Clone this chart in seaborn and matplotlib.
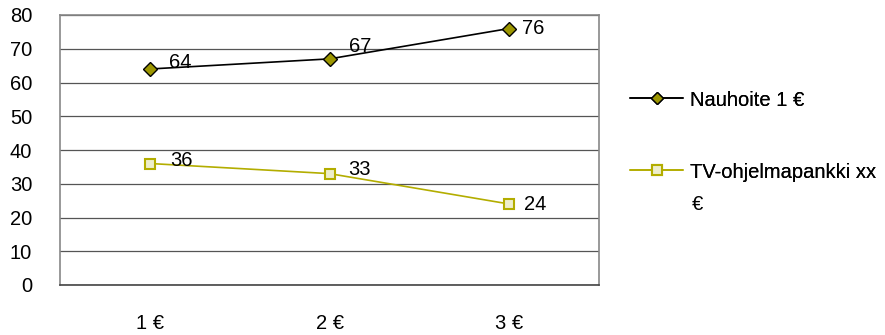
import matplotlib
matplotlib.use("Agg")
import matplotlib.pyplot as plt
from matplotlib.lines import Line2D
import seaborn as sns
import pandas as pd

categories = ["1 €", "2 €", "3 €"]
series_names = ["Nauhoite 1 €", "TV-ohjelmapankki xx €"]
nauhoite = [64, 67, 76]
tv_pankki = [36, 33, 24]
y_ticks = [0, 10, 20, 30, 40, 50, 60, 70, 80]

df = pd.DataFrame({
    "pos": list(range(len(categories))) * 2,
    "value": nauhoite + tv_pankki,
    "series": [series_names[0]] * 3 + [series_names[1]] * 3,
})

sns.set_theme(style="white")
plt.rcParams["font.family"] = ["Liberation Sans", "DejaVu Sans"]
plt.rcParams["text.color"] = "black"

FS = 14.5
OLIVE_DARK = "#9c9600"
OLIVE = "#b3ad00"
PALE = "#eeeecc"
PX = 0.72  # points per pixel at 100 dpi

fig = plt.figure(figsize=(8.85, 3.35), dpi=100)
ax = fig.add_axes([60 / 885, 50 / 335, 539 / 885, 270 / 335])

palette = {series_names[0]: "black", series_names[1]: OLIVE}
sns.lineplot(data=df, x="pos", y="value", hue="series", style="series",
             markers={series_names[0]: "D", series_names[1]: "s"},
             dashes=False, palette=palette, ax=ax, linewidth=1.2,
             legend=False)

lines = ax.get_lines()
lines[0].set_markerfacecolor(OLIVE_DARK)
lines[0].set_markeredgecolor("black")
lines[0].set_markeredgewidth(1.0)
lines[0].set_markersize(7.5)
lines[1].set_markerfacecolor(PALE)
lines[1].set_markeredgecolor(OLIVE)
lines[1].set_markeredgewidth(1.5)
lines[1].set_markersize(7)

# value labels sit to the right of each point, nudged clear of the lines
label_offsets = [
    [(19, 7), (19, 12.5), (13, 0.5)],
    [(20, 3), (19, 4), (15, -0.5)],
]
for vals, offs in zip((nauhoite, tv_pankki), label_offsets):
    for i, (v, (dx, dy)) in enumerate(zip(vals, offs)):
        ax.annotate(str(v), (i, v), xytext=(dx * PX, dy * PX),
                    textcoords="offset points", fontsize=FS, color="black",
                    va="center", ha="left")

ax.set_xlim(-0.5, 2.5)
ax.set_ylim(0, 80)
ax.set_yticks(y_ticks)
ax.set_yticklabels([str(t) for t in y_ticks], fontsize=FS, color="black")
ax.yaxis.grid(True, color="#555555", linewidth=0.9)
ax.set_axisbelow(True)

ax.set_xticks([-0.5, 0.5, 1.5, 2.5])
ax.set_xticklabels([""] * 4)
ax.set_xticks([0, 1, 2], minor=True)
ax.set_xticklabels(categories, minor=True, fontsize=FS, color="black")
ax.tick_params(axis="x", which="major", direction="out", length=6, color="#444444", width=1)
ax.tick_params(axis="x", which="minor", length=0, pad=21)
ax.tick_params(axis="y", direction="out", length=8, color="#555555", width=1, pad=12)
ax.set_xlabel("")
ax.set_ylabel("")

for side in ["left", "right", "top"]:
    ax.spines[side].set_color("#888888")
    ax.spines[side].set_linewidth(1.2)
ax.spines["bottom"].set_color("#444444")
ax.spines["bottom"].set_linewidth(1.2)

# legend entries to the right of the plot area
handles = [
    Line2D([], [], color="black", marker="D", markerfacecolor=OLIVE_DARK,
           markeredgecolor="black", markersize=6.5, linewidth=1.2),
    Line2D([], [], color=OLIVE, marker="s", markerfacecolor=PALE,
           markeredgecolor=OLIVE, markeredgewidth=1.5, markersize=7, linewidth=1.2),
]
legend_labels = ["Nauhoite 1 €", "TV-ohjelmapankki xx"]
legend_rows = [100, 172]
for h, lab, yrow in zip(handles, legend_labels, legend_rows):
    leg = fig.legend([h], [lab], loc="center left",
                     bbox_to_anchor=(630 / 885, 1 - yrow / 335),
                     frameon=False, fontsize=FS, handlelength=2.65,
                     handletextpad=0.34, borderpad=0, borderaxespad=0)
    fig.add_artist(leg)
fig.text(692 / 885, 1 - 205 / 335, "€", fontsize=FS, color="black",
         ha="left", va="center")

fig.savefig("out.png", dpi=100)
